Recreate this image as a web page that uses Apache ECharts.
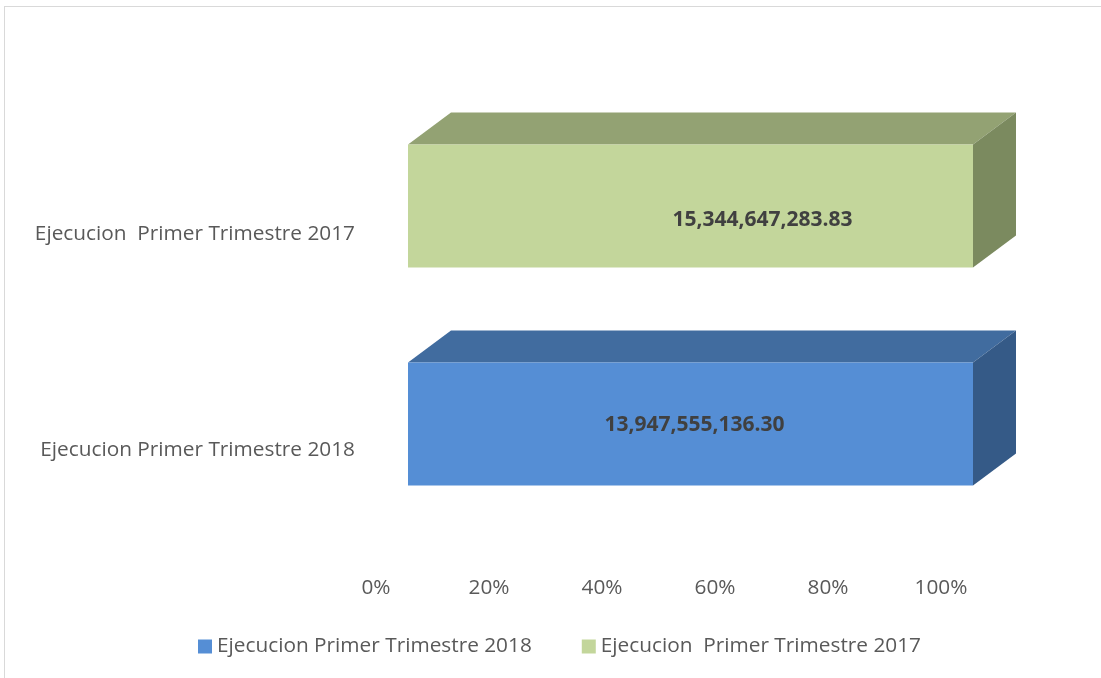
<!DOCTYPE html>
<html>
<head>
<meta charset="utf-8">
<script src="https://cdn.jsdelivr.net/npm/echarts@6/dist/echarts.min.js"></script>
<style>
  html, body { margin: 0; padding: 0; background: #fff; overflow: hidden; }
  #frame { position: absolute; left: 4px; top: 6px; width: 1200px; height: 800px; border: 1px solid #d9d9d9; }
  #chart { position: absolute; left: 0; top: 0; width: 1101px; height: 678px; }
</style>
</head>
<body>
<div id="frame"></div>
<div id="chart"></div>
<script>
// categories (bottom to top) and series amounts
var categories = ['Ejecucion Primer Trimestre 2018', 'Ejecucion  Primer Trimestre 2017']
var seriesNames = ['Ejecucion Primer Trimestre 2018', 'Ejecucion  Primer Trimestre 2017']
var amounts2018 = [13947555136.30, 0]
var amounts2017 = [0, 15344647283.83]
var pctTicks = [0, 20, 40, 60, 80, 100]

var palette = [
  { front: '#558ed5', top: '#416c9f', side: '#355a87' },
  { front: '#c3d69b', top: '#93a273', side: '#7b8a5f' }
]
// manual label nudges (Excel placed the 2017 label off-center)
var labelShift = [[4, 1], [72, 14]]
var depth = [43, -32]
var FONT = '"Open Sans"'
var TXT = 20.8

function fmt(v) {
  return v.toLocaleString('en-US', { minimumFractionDigits: 2, maximumFractionDigits: 2 })
}

function toSeriesData(amounts, all) {
  var out = []
  amounts.forEach(function (a, i) {
    if (!a) return
    var total = all.reduce(function (s, arr) { return s + arr[i] }, 0)
    out.push([a / total * 100, i, a])
  })
  return out
}

var allAmounts = [amounts2018, amounts2017]

function makeRender(sIdx) {
  return function (params, api) {
    var cat = api.value(1)
    var pct = api.value(0)
    var p0 = api.coord([0, cat])
    var p1 = api.coord([pct, cat])
    var h = api.size([0, 1])[1] * 0.565
    var x0 = p0[0], x1 = p1[0], yT = p0[1] - h / 2, yB = p0[1] + h / 2
    var dx = depth[0], dy = depth[1]
    var c = palette[sIdx]
    var sh = labelShift[sIdx]
    return {
      type: 'group',
      children: [
        { type: 'polygon', shape: { points: [[x0, yT], [x0 + dx, yT + dy], [x1 + dx, yT + dy], [x1, yT]] }, style: { fill: c.top } },
        { type: 'polygon', shape: { points: [[x1, yT], [x1 + dx, yT + dy], [x1 + dx, yB + dy], [x1, yB]] }, style: { fill: c.side } },
        { type: 'rect', shape: { x: x0, y: yT, width: x1 - x0, height: yB - yT }, style: { fill: c.front } },
        {
          type: 'text',
          style: {
            x: (x0 + x1) / 2 + sh[0], y: p0[1] + sh[1],
            text: fmt(api.value(2)),
            align: 'center', verticalAlign: 'middle',
            fill: '#404040', font: 'bold 21px ' + FONT
          }
        }
      ]
    }
  }
}

var chart = echarts.init(document.getElementById('chart'))
chart.setOption({
  animation: false,
  textStyle: { fontFamily: FONT },
  grid: [
    { left: 408, width: 565, top: 97, height: 436 },
    { left: 376, width: 565, top: 126, height: 432 }
  ],
  xAxis: [
    { gridIndex: 0, type: 'value', min: 0, max: 100, show: false },
    {
      gridIndex: 1, type: 'value', min: 0, max: 100, interval: 20,
      axisLine: { show: false }, axisTick: { show: false }, splitLine: { show: false },
      axisLabel: { formatter: function (v) { return pctTicks.indexOf(v) > -1 ? v + '%' : '' }, color: '#595959', fontSize: TXT, margin: 20 }
    }
  ],
  yAxis: [
    { gridIndex: 0, type: 'category', data: categories, show: false },
    {
      gridIndex: 1, type: 'category', data: categories,
      axisLine: { show: false }, axisTick: { show: false },
      axisLabel: { color: '#595959', fontSize: TXT, margin: 21 }
    }
  ],
  legend: {
    left: 198, top: 636, padding: 0, itemWidth: 14, itemHeight: 14, itemGap: 50, icon: 'rect',
    textStyle: { color: '#595959', fontSize: TXT },
    data: seriesNames
  },
  series: [0, 1].map(function (i) {
    return {
      name: seriesNames[i],
      type: 'custom',
      xAxisIndex: 0, yAxisIndex: 0,
      itemStyle: { color: palette[i].front },
      renderItem: makeRender(i),
      data: toSeriesData(allAmounts[i], allAmounts)
    }
  })
})
</script>
</body>
</html>
